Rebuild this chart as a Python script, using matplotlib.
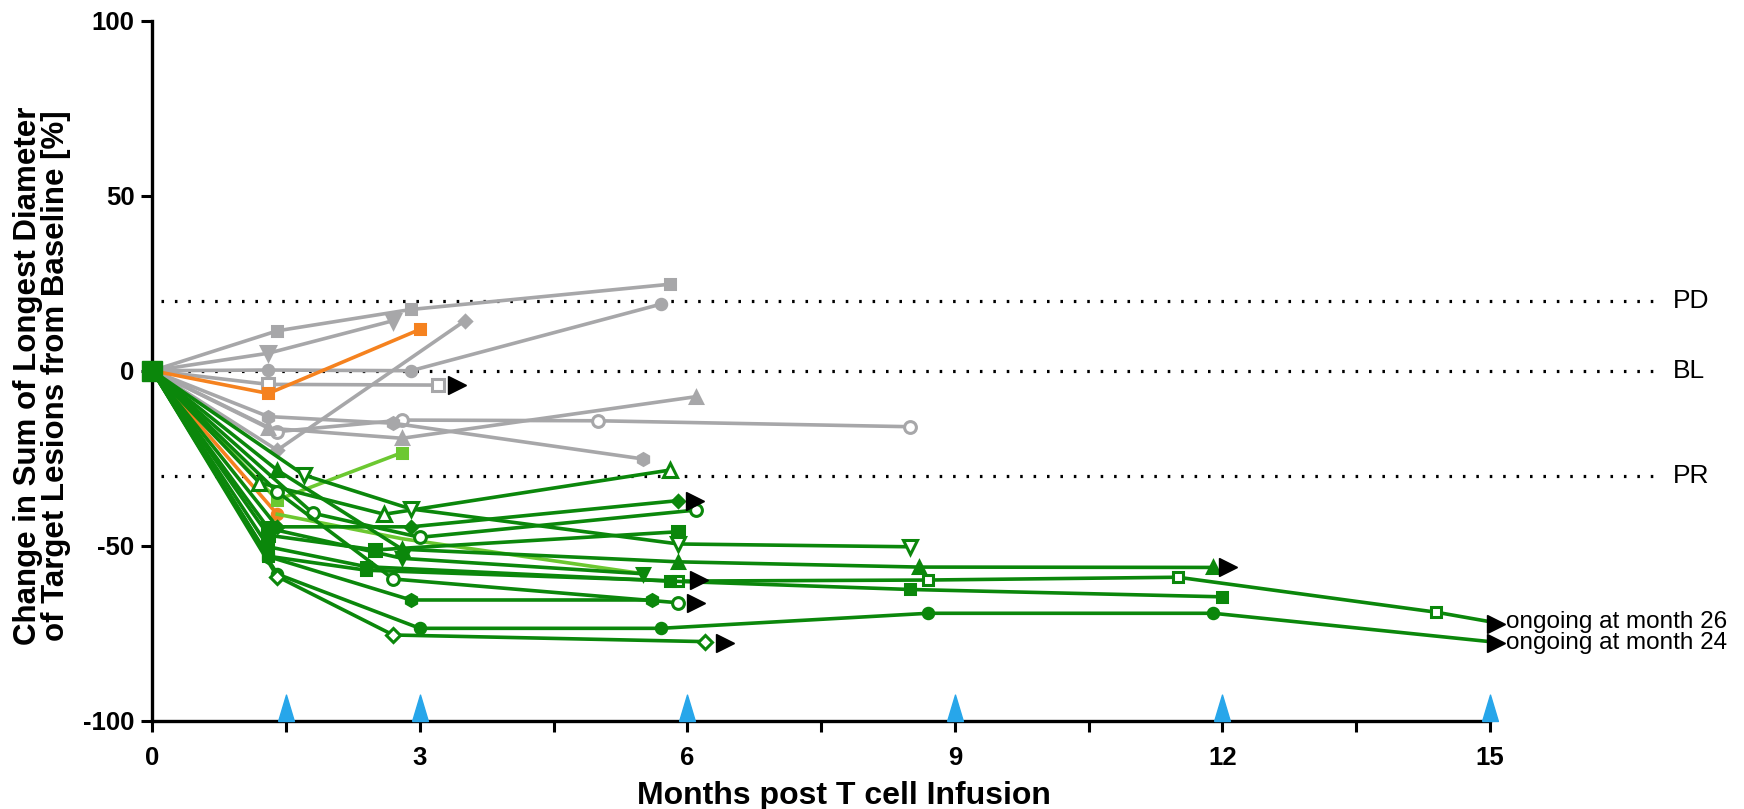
import matplotlib
matplotlib.use("Agg")
import matplotlib.pyplot as plt

plt.rcParams['font.family'] = ['Liberation Sans', 'DejaVu Sans']
plt.rcParams['axes.unicode_minus'] = False

GRAY = '#a7a7a9'
GREEN = '#0b870b'
ORANGE = '#f5821f'
LGREEN = '#6cc831'
BLUE = '#27a6ea'

# ---- data: (months, % change) per patient ----
# gray (stable disease)
g1_x = [0, 1.4, 2.9, 5.8];        g1_y = [0, 11.4, 17.5, 24.7]
g2_x = [0, 1.3, 2.7];             g2_y = [0, 5.0, 14.3]
g3_x = [0, 1.4, 3.5];             g3_y = [0, -22.7, 14.2]
g4_x = [0, 1.3, 2.9, 5.7];        g4_y = [0, 0.2, 0, 19.0]
g5_x = [0, 1.3, 3.2];             g5_y = [0, -3.9, -4.1]
g6_x = [0, 1.4, 2.8, 5.0, 8.5];   g6_y = [0, -17.4, -14.1, -14.3, -16.0]
g7_x = [0, 1.3, 2.8, 6.1];        g7_y = [0, -16.4, -19.3, -7.4]
g8_x = [0, 1.3, 2.7, 5.5];        g8_y = [0, -13.1, -15.0, -25.2]

# orange
o1_x = [0, 1.3, 3.0];  o1_y = [0, -6.5, 11.8]
o2_x = [0, 1.4];       o2_y = [0, -41]

# light green
lg1_x = [0, 1.4, 2.8];    lg1_y = [0, -36.9, -23.4]
lg2_x = [1.4, 2.8, 5.5];  lg2_y = [-41, -48, -58]

# green (responders)
G1_x = [0, 1.2, 2.6, 5.8];               G1_y = [0, -32, -41, -28.4]
G2_x = [0, 1.4, 2.9, 5.9];               G2_y = [0, -44.6, -44.6, -37.1]
G3_x = [0, 1.8, 3.0, 6.1];               G3_y = [0, -40.7, -47.6, -39.8]
G4_x = [0, 1.3, 2.5, 5.9];               G4_y = [0, -47, -51.2, -46]
G5_x = [0, 1.7, 2.9, 5.9, 8.5];          G5_y = [0, -29.8, -39.5, -49.5, -50.3]
G6_x = [0, 1.4, 2.8, 5.9, 8.6, 11.9];    G6_y = [0, -28.4, -51, -54.6, -56.1, -56.2]
G7_x = [0, 1.3, 2.4, 5.9, 8.7, 11.5, 14.4, 15.0]
G7_y = [0, -53, -57, -60.1, -59.8, -59, -69, -71.7]
G8_x = [0, 1.3, 2.4, 5.8, 8.5, 12.0];    G8_y = [0, -50.3, -56, -60.1, -62.5, -64.6]
G9_x = [0, 1.4, 3.0, 5.7, 8.7, 11.9, 15.0]
G9_y = [0, -58.1, -73.6, -73.6, -69.3, -69.3, -77.4]
G10_x = [0, 1.4, 2.7, 6.2];              G10_y = [0, -58.8, -75.5, -77.4]
G11_x = [0, 1.3, 2.9, 5.6];              G11_y = [0, -53.1, -65.5, -65.5]
G12_x = [0, 1.4, 2.7, 5.9];              G12_y = [0, -34.6, -59.5, -66.3]
G13_x = [0, 1.3, 2.8, 5.5];              G13_y = [0, -45, -53.6, -58]

# ongoing arrows
arrow_x = [3.42, 6.08, 6.13, 6.1, 6.42, 12.06, 15.07, 15.07]
arrow_y = [-4.1, -37.2, -59.7, -66.4, -77.7, -56.2, -72.3, -77.9]

# reference lines
ref_vals = [20, 0, -30]
ref_labels = ['PD', 'BL', 'PR']

# infusion / assessment time points
blue_x = [1.5, 3, 6, 9, 12, 15]

fig = plt.figure(figsize=(17.44, 8.09), dpi=100)
ax = fig.add_axes([0.0874, 0.1091, 0.7669, 0.8653])

LW = 2.6
MS = 8.5
MEW = 2.2

def draw(x, y, color, marker, filled=True, ms=MS, every=None):
    ax.plot(x, y, color=color, lw=LW, marker=marker, ms=ms,
            mfc=color if filled else 'white', mec=color, mew=MEW,
            markevery=every, clip_on=False, zorder=3)

# dotted reference lines
for v, lab in zip(ref_vals, ref_labels):
    ax.plot([0.1, 16.94], [v, v], color='black', lw=2.3,
            ls=(0, (0.8, 3.4)), clip_on=False, zorder=1)
    ax.text(17.05, v, lab, fontsize=19, va='center', ha='left')

# gray
draw(g1_x, g1_y, GRAY, 's', ms=7.5)
draw(g2_x, g2_y, GRAY, 'v', ms=9.5)
draw(g3_x, g3_y, GRAY, 'D', ms=6.5)
draw(g4_x, g4_y, GRAY, 'o', ms=7.5)
draw(g5_x, g5_y, GRAY, 's', filled=False)
draw(g6_x, g6_y, GRAY, 'o', filled=False)
draw(g7_x, g7_y, GRAY, '^', ms=9)
draw(g8_x, g8_y, GRAY, 'h', ms=8.5)

# orange
draw(o1_x, o1_y, ORANGE, 's', ms=7.5)
draw(o2_x, o2_y, ORANGE, 'o', ms=7.5)

# light green
draw(lg1_x, lg1_y, LGREEN, 's', ms=7.5)
ax.plot(lg2_x, lg2_y, color=LGREEN, lw=LW, zorder=3)

# green
draw(G1_x, G1_y, GREEN, '^', filled=False, ms=10.5)
draw(G2_x, G2_y, GREEN, 'D', ms=6.5)
draw(G3_x, G3_y, GREEN, 'o', filled=False)
draw(G4_x, G4_y, GREEN, 's')
draw(G5_x, G5_y, GREEN, 'v', filled=False, ms=10.5)
draw(G6_x, G6_y, GREEN, '^', ms=9)
draw(G7_x, G7_y, GREEN, 's', filled=False, ms=7.5, every=list(range(len(G7_x) - 1)))
draw(G8_x, G8_y, GREEN, 's', ms=7.5)
draw(G9_x, G9_y, GREEN, 'o', ms=7.5, every=list(range(len(G9_x) - 1)))
draw(G10_x, G10_y, GREEN, 'D', filled=False, ms=7.5)
draw(G11_x, G11_y, GREEN, 'h')
draw(G12_x, G12_y, GREEN, 'o', filled=False)
draw(G13_x, G13_y, GREEN, 'v', ms=9)
ax.plot(lg2_x[-1], lg2_y[-1], marker='v', color=GREEN, ms=9, zorder=4)

# baseline marker
ax.plot(0, 0, marker='s', color=GREEN, ms=14, clip_on=False, zorder=5)

# ongoing arrows
ax.plot(arrow_x, arrow_y, ls='none', marker='>', color='black', ms=13.5,
        clip_on=False, zorder=5)
ax.text(15.18, -71.7, 'ongoing at month 26', fontsize=17.5, va='center', ha='left')
ax.text(15.18, -77.8, 'ongoing at month 24', fontsize=17.5, va='center', ha='left')

# blue triangles on the axis
tri = [(-0.6, 0), (0.6, 0), (0, 2.0), (-0.6, 0)]
ax.plot(blue_x, [-100] * len(blue_x), ls='none', marker=tri, color=BLUE,
        ms=38, clip_on=False, zorder=6)

ax.set_xlim(0, 15)
ax.set_ylim(-100, 100)
ax.set_xticks([0, 3, 6, 9, 12, 15])
ax.set_xticks([1.5, 4.5, 7.5, 10.5, 13.5], minor=True)
ax.set_yticks([-100, -50, 0, 50, 100])
for s in ['top', 'right']:
    ax.spines[s].set_visible(False)
for s in ['left', 'bottom']:
    ax.spines[s].set_linewidth(2.4)
ax.tick_params(axis='both', which='major', length=8, width=2.2,
               labelsize=18.5, pad=5)
ax.tick_params(axis='x', which='minor', length=8, width=2.2)
ax.tick_params(axis='x', which='major', pad=10)
for lab in ax.get_xticklabels() + ax.get_yticklabels():
    lab.set_fontweight('bold')

fig.text(0.484, 0.016, 'Months post T cell Infusion', fontsize=23,
         fontweight='bold', ha='center', va='center')
fig.text(0.024, 0.536,
         'Change in Sum of Longest Diameter\nof Target Lesions from Baseline [%]',
         fontsize=22.5, fontweight='bold', rotation=90, ha='center', va='center',
         multialignment='center', linespacing=0.92)

fig.savefig('out.png', dpi=100)
